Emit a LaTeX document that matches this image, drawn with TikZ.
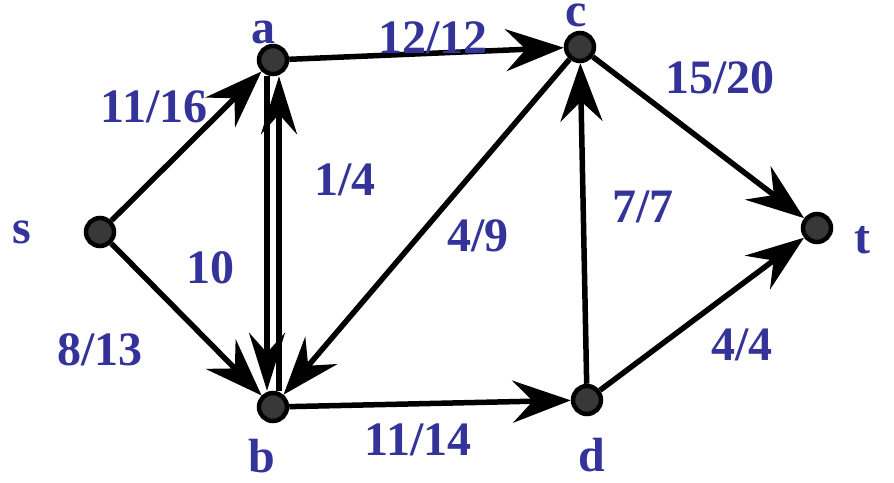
\documentclass[tikz,border=0pt]{standalone}
\usepackage{fontspec}
\setmainfont{Liberation Serif}
\usetikzlibrary{arrows.meta}
\definecolor{lblue}{HTML}{333399}
\definecolor{vgray}{HTML}{383838}
\begin{document}
\begin{tikzpicture}[x=1pt,y=-1pt,
  vert/.style={circle,draw=black,line width=4.5pt,fill=vgray,minimum size=28pt,inner sep=0pt},
  lbl/.style={text=lblue,font=\fontsize{48}{48}\selectfont\bfseries,inner sep=0pt},
  edge/.style={line width=5.5pt,-{Stealth[length=58pt,width=42pt,inset=20pt]}},
  dedge/.style={line width=5.5pt,-{Stealth[length=58pt,width=36pt,inset=20pt]}}]
\useasboundingbox (0,0) rectangle (894,482);
\node[vert] (s) at (100,232) {};
\node[vert] (a) at (273,60) {};
\node[vert] (b) at (273,407) {};
\node[vert] (c) at (580,47) {};
\node[vert] (d) at (587,400) {};
\node[vert] (t) at (817,228) {};
\draw[edge] (s) -- (a);
\draw[edge] (s) -- (b);
\draw[edge] (a) -- (c);
\draw[edge] (c) -- (b);
\draw[edge] (b) -- (d);
\draw[edge] (d) -- (c);
\draw[edge] (c) -- (t);
\draw[edge] (d) -- (t);
\draw[dedge] ([xshift=-6pt]a.south) -- ([xshift=-6pt]b.north);
\draw[dedge] ([xshift=6pt]b.north) -- ([xshift=6pt]a.south);
\node[lbl] (ls) at (22,232) {s};
\node[lbl] (lt) at (862,240) {t};
\node[lbl] (la) at (263,32) {a};
\node[lbl] (lb) at (262,456) {b};
\node[lbl] (lc) at (576,15) {c};
\node[lbl] (ld) at (592,455) {d};
\node[lbl] (e1) at (154,107) {11/16};
\node[lbl] (e2) at (433,38) {12/12};
\node[lbl] (e3) at (720,78) {15/20};
\node[lbl] (e4) at (345,180) {1/4};
\node[lbl] (e5) at (210,268) {10};
\node[lbl] (e6) at (478,236) {4/9};
\node[lbl] (e7) at (643,207) {7/7};
\node[lbl] (e8) at (100,350) {8/13};
\node[lbl] (e9) at (418,440) {11/14};
\node[lbl] (e10) at (742,345) {4/4};
\end{tikzpicture}
\end{document}
